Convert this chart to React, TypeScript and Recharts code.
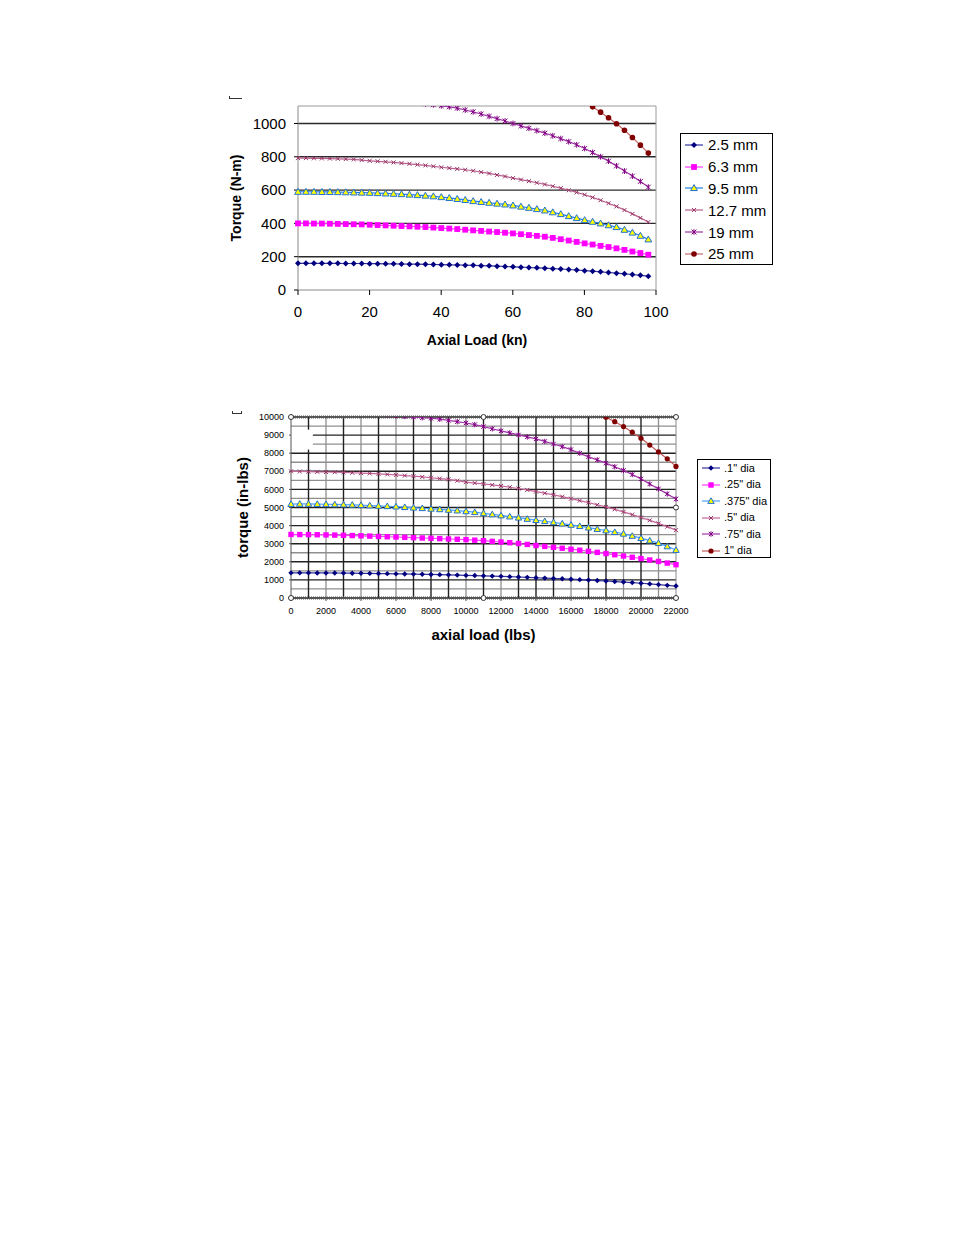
import React from "react";
import {
  LineChart,
  Line,
  XAxis,
  YAxis,
  CartesianGrid,
  ReferenceLine,
  ReferenceDot,
  ReferenceArea,
  Legend,
  Label,
} from "recharts";

// ---- top chart: metric ----
const loadKn = [
  0, 2.22, 4.45, 6.67, 8.9, 11.12, 13.34, 15.57, 17.79, 20.02, 22.24, 24.47, 26.69, 28.91, 31.14,
  33.36, 35.59, 37.81, 40.03, 42.26, 44.48, 46.71, 48.93, 51.16, 53.38, 55.6, 57.83, 60.05, 62.28,
  64.5, 66.72, 68.95, 71.17, 73.4, 75.62, 77.84, 80.07, 82.29, 84.52, 86.74, 88.96, 91.19, 93.41,
  95.64, 97.86,
];
const torque25mm = [
  160, 160, 160, 160, 160, 160, 159, 159, 159, 158, 158, 157, 157, 156, 155, 155, 154, 153, 152,
  151, 150, 149, 148, 146, 145, 143, 141, 139, 137, 135, 133, 131, 128, 126, 123, 120, 116, 113,
  109, 105, 101, 97, 93, 88, 83,
];
const torque63mm = [
  400, 400, 399, 399, 398, 397, 396, 395, 394, 392, 390, 388, 386, 384, 382, 380, 378, 375, 372,
  369, 366, 362, 358, 355, 351, 348, 344, 340, 335, 330, 325, 320, 313, 305, 297, 289, 280, 273,
  265, 258, 250, 241, 231, 222, 212,
];
const torque95mm = [
  590, 590, 590, 589, 589, 588, 587, 586, 585, 584, 582, 580, 578, 576, 573, 570, 567, 563, 558,
  553, 547, 541, 534, 529, 524, 519, 514, 508, 501, 494, 486, 478, 467, 456, 444, 432, 420, 410,
  400, 389, 378, 362, 345, 326, 304,
];
const torque127mm = [
  792, 792, 791, 790, 789, 788, 786, 784, 780, 776, 773, 770, 766, 762, 758, 753, 748, 743, 737,
  732, 727, 722, 716, 708, 700, 691, 682, 672, 663, 654, 644, 634, 623, 612, 599, 586, 572, 556,
  539, 521, 502, 480, 457, 433, 408,
];
const torque19mm = [
  1180, 1179, 1178, 1176, 1174, 1172, 1169, 1166, 1162, 1158, 1154, 1149, 1144, 1138, 1132, 1125,
  1118, 1112, 1106, 1100, 1092, 1081, 1070, 1057, 1043, 1029, 1015, 1000, 986, 971, 957, 942, 926,
  909, 891, 872, 850, 826, 800, 774, 745, 714, 684, 652, 618,
];
const torque25mmBig = [
  1560, 1559, 1557, 1555, 1552, 1549, 1545, 1541, 1536, 1531, 1525, 1519, 1512, 1505, 1497, 1489,
  1480, 1470, 1460, 1449, 1438, 1426, 1413, 1400, 1386, 1371, 1356, 1340, 1323, 1305, 1286, 1266,
  1245, 1222, 1199, 1163, 1131, 1100, 1068, 1034, 998, 959, 916, 870, 822,
];
const knTicks = [0, 20, 40, 60, 80, 100];
const nmTicks = [0, 200, 400, 600, 800, 1000];

// ---- bottom chart: imperial ----
const loadLbs = [
  0, 500, 1000, 1500, 2000, 2500, 3000, 3500, 4000, 4500, 5000, 5500, 6000, 6500, 7000, 7500, 8000,
  8500, 9000, 9500, 10000, 10500, 11000, 11500, 12000, 12500, 13000, 13500, 14000, 14500, 15000,
  15500, 16000, 16500, 17000, 17500, 18000, 18500, 19000, 19500, 20000, 20500, 21000, 21500, 22000,
];
const torque01in = [
  1390, 1390, 1390, 1385, 1385, 1380, 1375, 1370, 1365, 1360, 1350, 1345, 1335, 1330, 1320, 1310,
  1300, 1290, 1280, 1265, 1250, 1240, 1225, 1210, 1195, 1180, 1160, 1140, 1120, 1100, 1080, 1060,
  1040, 1015, 990, 965, 940, 910, 880, 850, 815, 780, 740, 700, 660,
];
const torque025in = [
  3510, 3505, 3500, 3495, 3485, 3475, 3465, 3450, 3435, 3420, 3400, 3385, 3370, 3350, 3335, 3315,
  3300, 3280, 3260, 3245, 3225, 3195, 3165, 3130, 3095, 3055, 3010, 2960, 2900, 2850, 2800, 2750,
  2695, 2640, 2580, 2520, 2455, 2390, 2320, 2250, 2180, 2100, 2020, 1930, 1840,
];
const torque0375in = [
  5190, 5200, 5200, 5190, 5180, 5170, 5160, 5150, 5130, 5110, 5090, 5070, 5050, 5020, 4990, 4960,
  4930, 4900, 4870, 4830, 4790, 4740, 4680, 4620, 4560, 4500, 4440, 4370, 4300, 4240, 4180, 4110,
  4040, 3970, 3890, 3810, 3730, 3640, 3550, 3430, 3310, 3170, 3030, 2850, 2650,
];
const torque05in = [
  7000, 6990, 6980, 6970, 6960, 6950, 6940, 6920, 6900, 6880, 6860, 6830, 6800, 6765, 6730, 6690,
  6645, 6600, 6550, 6480, 6400, 6350, 6300, 6250, 6190, 6120, 6050, 5970, 5880, 5790, 5700, 5600,
  5490, 5380, 5270, 5150, 5030, 4900, 4760, 4610, 4450, 4290, 4120, 3940, 3750,
];
const torque075in = [
  10300, 10295, 10290, 10280, 10270, 10255, 10240, 10220, 10195, 10170, 10140, 10105, 10070, 10030,
  9995, 9960, 9930, 9880, 9810, 9740, 9670, 9580, 9470, 9350, 9230, 9120, 9010, 8900, 8790, 8650,
  8510, 8360, 8200, 8000, 7800, 7630, 7450, 7250, 7050, 6820, 6580, 6300, 6030, 5750, 5470,
];
const torque1in = [
  13320, 13320, 13320, 13315, 13315, 13310, 13305, 13300, 13290, 13280, 13270, 13255, 13235, 13210,
  13180, 13140, 13090, 13030, 12960, 12880, 12790, 12690, 12580, 12460, 12330, 12190, 12040, 11880,
  11710, 11530, 11340, 11140, 10930, 10710, 10480, 10240, 9990, 9740, 9470, 9160, 8820, 8450, 8070,
  7690, 7270,
];
const lbsTicks = [0, 2000, 4000, 6000, 8000, 10000, 12000, 14000, 16000, 18000, 20000, 22000];
const inLbTicks = [0, 1000, 2000, 3000, 4000, 5000, 6000, 7000, 8000, 9000, 10000];
const inLbHalfLines = [500, 1500, 2500, 3500, 4500, 5500, 6500, 7500, 8500, 9500];
const lbsDarkLines = [1000, 3000, 5000, 7000, 8000, 9000, 11000, 13000, 14000, 15000, 17000, 18000, 20000];
const lbsLightLines = [2000, 4000, 6000, 10000, 12000, 16000, 19000, 21000];

type Shape = "diamond" | "square" | "triangle" | "cross" | "star" | "circle";
type Series = {
  key: string;
  name: string;
  values: number[];
  line: string;
  mark: string;
  fill?: string;
  shape: Shape;
  size: number;
};

const topSeries: Series[] = [
  { key: "a", name: "2.5 mm", values: torque25mm, line: "#34349e", mark: "#000080", shape: "diamond", size: 3 },
  { key: "b", name: "6.3 mm", values: torque63mm, line: "#ff3cff", mark: "#ff00ff", shape: "square", size: 2.9 },
  { key: "c", name: "9.5 mm", values: torque95mm, line: "#1f7fe6", mark: "#1f6fd6", fill: "#ffff00", shape: "triangle", size: 3.4 },
  { key: "d", name: "12.7 mm", values: torque127mm, line: "#b8608e", mark: "#993366", shape: "cross", size: 2 },
  { key: "e", name: "19 mm", values: torque19mm, line: "#a034a8", mark: "#800080", shape: "star", size: 2.4 },
  { key: "f", name: "25 mm", values: torque25mmBig, line: "#c46a6a", mark: "#800000", shape: "circle", size: 2.8 },
];

const bottomSeries: Series[] = [
  { key: "a", name: '.1" dia', values: torque01in, line: "#34349e", mark: "#000080", shape: "diamond", size: 2.7 },
  { key: "b", name: '.25" dia', values: torque025in, line: "#ff3cff", mark: "#ff00ff", shape: "square", size: 2.7 },
  { key: "c", name: '.375" dia', values: torque0375in, line: "#4aa2ff", mark: "#1f6fd6", fill: "#ffff00", shape: "triangle", size: 3.2 },
  { key: "d", name: '.5" dia', values: torque05in, line: "#c4679a", mark: "#993366", shape: "cross", size: 2 },
  { key: "e", name: '.75" dia', values: torque075in, line: "#a034a8", mark: "#800080", shape: "star", size: 2.2 },
  { key: "f", name: '1" dia', values: torque1in, line: "#c45a5a", mark: "#800000", shape: "circle", size: 2.6 },
];

const topRows = loadKn.map((x, i) => {
  const row: Record<string, number> = { x };
  topSeries.forEach((s) => (row[s.key] = s.values[i]));
  return row;
});
const bottomRows = loadLbs.map((x, i) => {
  const row: Record<string, number> = { x };
  bottomSeries.forEach((s) => (row[s.key] = s.values[i]));
  return row;
});

function Marker({ s, cx, cy }: { s: Series; cx: number; cy: number }) {
  const r = s.size;
  switch (s.shape) {
    case "diamond":
      return <polygon points={`${cx},${cy - r} ${cx + r},${cy} ${cx},${cy + r} ${cx - r},${cy}`} fill={s.mark} />;
    case "square":
      return <rect x={cx - r} y={cy - r} width={2 * r} height={2 * r} fill={s.mark} />;
    case "triangle":
      return (
        <polygon
          points={`${cx},${cy - r} ${cx + r},${cy + r * 0.75} ${cx - r},${cy + r * 0.75}`}
          fill={s.fill}
          stroke={s.mark}
          strokeWidth={1}
        />
      );
    case "cross":
      return (
        <path d={`M${cx - r},${cy - r}L${cx + r},${cy + r}M${cx - r},${cy + r}L${cx + r},${cy - r}`} stroke={s.mark} strokeWidth={1} />
      );
    case "star":
      return (
        <path
          d={`M${cx - r},${cy - r}L${cx + r},${cy + r}M${cx - r},${cy + r}L${cx + r},${cy - r}M${cx},${cy - r - 0.5}L${cx},${cy + r + 0.5}`}
          stroke={s.mark}
          strokeWidth={1}
        />
      );
    default:
      return <circle cx={cx} cy={cy} r={r} fill={s.mark} />;
  }
}

const dotFor = (s: Series) => (p: any) => {
  if (p.cx == null || p.cy == null) return <g key={`n${p.index}`} />;
  return (
    <g key={`d${p.index}`}>
      <Marker s={s} cx={p.cx} cy={p.cy} />
    </g>
  );
};

function LegendBox({
  items,
  width,
  height,
  rowH,
  fontSize,
  padLeft,
  gap,
}: {
  items: Series[];
  width: number;
  height: number;
  rowH: number;
  fontSize: number;
  padLeft: number;
  gap: number;
}) {
  return (
    <div
      style={{
        width,
        height,
        boxSizing: "border-box",
        border: "1px solid #000",
        background: "#fff",
        paddingLeft: padLeft,
        fontFamily: "'Liberation Sans', Arial, sans-serif",
        fontSize,
        color: "#000",
      }}
    >
      {items.map((s) => (
        <div key={s.key} style={{ height: rowH, display: "flex", alignItems: "center" }}>
          <svg width={20} height={10} style={{ marginRight: gap, flex: "none" }}>
            <line x1={1} y1={5} x2={19} y2={5} stroke={s.line} strokeWidth={1.2} />
            <Marker s={s} cx={10} cy={5} />
          </svg>
          <span style={{ whiteSpace: "nowrap", lineHeight: 1 }}>{s.name}</span>
        </div>
      ))}
    </div>
  );
}

const font = "'Liberation Sans', Arial, sans-serif";

function MetricChart() {
  return (
    <LineChart width={954} height={380} data={topRows} margin={{ top: 106, right: 298, bottom: 34, left: 198 }}>
      <CartesianGrid vertical={false} horizontalValues={[200, 400, 600, 800, 1000]} stroke="#2a2a2a" strokeWidth={1.4} />
      <ReferenceLine y={1105} stroke="#9a9a9a" />
      <ReferenceLine x={100} stroke="#9a9a9a" />
      <XAxis
        type="number"
        dataKey="x"
        domain={[0, 100]}
        ticks={knTicks}
        interval={0}
        height={56}
        tickSize={5}
        tickMargin={11}
        axisLine={{ stroke: "#8a8a8a" }}
        tickLine={{ stroke: "#000" }}
        tick={{ fill: "#000", fontSize: 15 }}
      >
        <Label value="Axial Load (kn)" position="insideBottom" offset={1} style={{ fontSize: 14, fontWeight: "bold", fill: "#000" }} />
      </XAxis>
      <YAxis
        type="number"
        domain={[0, 1105]}
        ticks={nmTicks}
        interval={0}
        allowDataOverflow
        width={100}
        tickSize={4}
        tickMargin={8}
        axisLine={{ stroke: "#8a8a8a" }}
        tickLine={{ stroke: "#000" }}
        tick={{ fill: "#000", fontSize: 15 }}
      >
        <Label
          value="Torque (N-m)"
          angle={-90}
          position="insideLeft"
          offset={38}
          style={{ fontSize: 14, fontWeight: "bold", fill: "#000", textAnchor: "middle" }}
        />
      </YAxis>
      {topSeries.map((s) => (
        <Line
          key={s.key}
          dataKey={s.key}
          name={s.name}
          type="linear"
          stroke={s.line}
          strokeWidth={1.2}
          dot={dotFor(s)}
          activeDot={false}
          isAnimationActive={false}
        />
      ))}
      <Legend
        layout="vertical"
        align="center"
        verticalAlign="middle"
        wrapperStyle={{ left: 680, top: 133 }}
        content={() => <LegendBox items={topSeries} width={93} height={132} rowH={21.8} fontSize={15} padLeft={3} gap={4} />}
      />
    </LineChart>
  );
}

function ImperialChart() {
  return (
    <LineChart width={954} height={300} data={bottomRows} margin={{ top: 37, right: 278, bottom: 26, left: 191 }}>
      <CartesianGrid horizontalValues={inLbHalfLines} verticalValues={lbsLightLines} stroke="#8f8f8f" strokeWidth={1.3} />
      <CartesianGrid horizontalValues={inLbTicks} verticalValues={lbsDarkLines} stroke="#222" strokeWidth={1.4} />
      <ReferenceArea x1={0} x2={1250} y1={8200} y2={9300} fill="#fff" fillOpacity={1} stroke="none" />
      <ReferenceLine x={22000} stroke="#8a8a8a" />
      <ReferenceLine y={10000} stroke="#555" strokeWidth={3} strokeDasharray="1 1" />
      <ReferenceLine y={0} stroke="#555" strokeWidth={3} strokeDasharray="1 1" />
      <XAxis
        type="number"
        dataKey="x"
        domain={[0, 22000]}
        ticks={lbsTicks}
        interval={0}
        height={56}
        tickSize={3}
        tickMargin={7}
        axisLine={{ stroke: "#555" }}
        tickLine={{ stroke: "#555" }}
        tick={{ fill: "#000", fontSize: 9 }}
      >
        <Label value="axial load (lbs)" position="insideBottom" offset={14} style={{ fontSize: 15, fontWeight: "bold", fill: "#000" }} />
      </XAxis>
      <YAxis
        type="number"
        domain={[0, 10000]}
        ticks={inLbTicks}
        interval={0}
        allowDataOverflow
        width={100}
        tickSize={2}
        tickMargin={5}
        axisLine={{ stroke: "#555" }}
        tickLine={{ stroke: "#555" }}
        tick={{ fill: "#000", fontSize: 9 }}
      >
        <Label
          value="torque (in-lbs)"
          angle={-90}
          position="insideLeft"
          offset={52}
          style={{ fontSize: 15, fontWeight: "bold", fill: "#000", textAnchor: "middle" }}
        />
      </YAxis>
      {bottomSeries.map((s) => (
        <Line
          key={s.key}
          dataKey={s.key}
          name={s.name}
          type="linear"
          stroke={s.line}
          strokeWidth={1.2}
          dot={dotFor(s)}
          activeDot={false}
          isAnimationActive={false}
        />
      ))}
      <ReferenceDot x={0} y={10000} r={2.5} fill="#fff" stroke="#333" />
      <ReferenceDot x={11000} y={10000} r={2.5} fill="#fff" stroke="#333" />
      <ReferenceDot x={22000} y={10000} r={2.5} fill="#fff" stroke="#333" />
      <ReferenceDot x={22000} y={5000} r={2.5} fill="#fff" stroke="#333" />
      <ReferenceDot x={22000} y={0} r={2.5} fill="#fff" stroke="#333" />
      <ReferenceDot x={11000} y={0} r={2.5} fill="#fff" stroke="#333" />
      <ReferenceDot x={0} y={0} r={2.5} fill="#fff" stroke="#333" />
      <Legend
        layout="vertical"
        align="center"
        verticalAlign="middle"
        wrapperStyle={{ left: 697, top: 79 }}
        content={() => <LegendBox items={bottomSeries} width={74} height={99} rowH={16.5} fontSize={11} padLeft={3} gap={3} />}
      />
    </LineChart>
  );
}

export default function App() {
  return (
    <div style={{ position: "absolute", left: 0, top: 0, width: 954, height: 1235, background: "#fff", fontFamily: font }}>
      <div style={{ position: "absolute", left: 229, top: 96, width: 12, height: 2, borderLeft: "1px solid #333", borderBottom: "1px solid #333" }} />
      <div style={{ position: "absolute", left: 0, top: 0 }}>
        <MetricChart />
      </div>
      <div style={{ position: "absolute", left: 232, top: 411, width: 8, height: 2, borderLeft: "1px solid #333", borderRight: "1px solid #333", borderBottom: "1px solid #333" }} />
      <div style={{ position: "absolute", left: 0, top: 380 }}>
        <ImperialChart />
      </div>
    </div>
  );
}
